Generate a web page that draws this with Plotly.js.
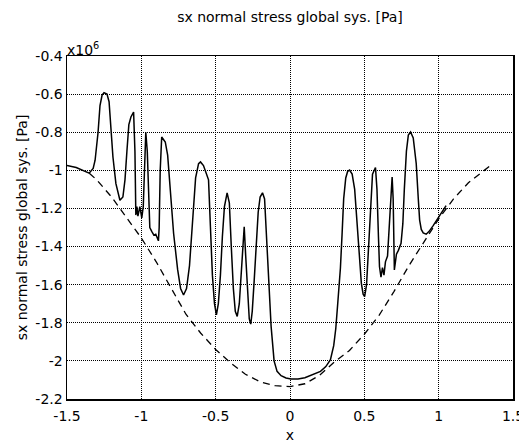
<!DOCTYPE html>
<html>
<head>
<meta charset="utf-8">
<script src="https://cdn.plot.ly/plotly-3.0.1.min.js"></script>
<style>html,body{margin:0;padding:0;background:#fff;}#chart{width:519px;height:443px;}</style>
</head>
<body>
<div id="chart"></div>
<script>
// Solid curve (values in units of 1e6 Pa)
const solidX = [-1.5,-1.438,-1.351,-1.324,-1.311,-1.291,-1.278,-1.264,-1.251,-1.231,-1.217,-1.204,-1.191,-1.171,-1.144,-1.124,-1.110,-1.097,-1.084,-1.070,-1.052,-1.043,-1.037,-1.030,-1.023,-1.010,-0.997,-0.987,-0.977,-0.970,-0.960,-0.943,-0.930,-0.916,-0.903,-0.885,-0.880,-0.873,-0.863,-0.850,-0.839,-0.823,-0.803,-0.783,-0.756,-0.736,-0.716,-0.696,-0.676,-0.656,-0.635,-0.615,-0.602,-0.582,-0.562,-0.548,-0.535,-0.522,-0.508,-0.495,-0.482,-0.468,-0.455,-0.441,-0.423,-0.408,-0.395,-0.381,-0.368,-0.355,-0.341,-0.328,-0.314,-0.308,-0.298,-0.288,-0.274,-0.264,-0.254,-0.241,-0.227,-0.214,-0.201,-0.185,-0.171,-0.161,-0.147,-0.127,-0.107,-0.087,-0.060,-0.027,0.007,0.054,0.100,0.154,0.205,0.241,0.272,0.294,0.308,0.321,0.339,0.350,0.361,0.375,0.388,0.401,0.418,0.435,0.448,0.465,0.480,0.492,0.502,0.515,0.528,0.542,0.555,0.575,0.585,0.595,0.602,0.612,0.622,0.632,0.642,0.656,0.669,0.687,0.694,0.702,0.716,0.729,0.747,0.759,0.769,0.783,0.796,0.811,0.829,0.849,0.863,0.872,0.883,0.896,0.916,0.936,0.963,1.003,1.050];
const solidY = [-0.975,-0.985,-1.015,-0.99,-0.947,-0.80,-0.66,-0.605,-0.593,-0.60,-0.64,-0.78,-0.93,-1.07,-1.157,-1.14,-1.05,-0.90,-0.76,-0.72,-0.694,-0.90,-1.235,-1.19,-1.24,-1.19,-1.25,-1.19,-0.95,-0.80,-0.90,-1.30,-1.32,-1.34,-1.335,-1.37,-1.30,-1.00,-0.825,-0.84,-0.851,-0.92,-1.12,-1.33,-1.52,-1.62,-1.654,-1.62,-1.50,-1.25,-1.04,-0.965,-0.956,-0.975,-1.02,-1.05,-1.30,-1.55,-1.70,-1.758,-1.70,-1.55,-1.35,-1.19,-1.118,-1.17,-1.40,-1.62,-1.74,-1.767,-1.70,-1.52,-1.36,-1.296,-1.45,-1.62,-1.78,-1.807,-1.74,-1.58,-1.40,-1.22,-1.14,-1.118,-1.15,-1.30,-1.55,-1.82,-2.00,-2.055,-2.078,-2.09,-2.095,-2.095,-2.088,-2.07,-2.055,-2.03,-1.994,-1.92,-1.83,-1.70,-1.514,-1.34,-1.15,-1.04,-1.005,-0.999,-1.02,-1.10,-1.25,-1.45,-1.593,-1.65,-1.663,-1.60,-1.40,-1.15,-1.02,-0.985,-1.10,-1.35,-1.506,-1.56,-1.51,-1.55,-1.48,-1.45,-1.30,-1.035,-1.15,-1.523,-1.44,-1.42,-1.383,-1.28,-1.10,-0.90,-0.815,-0.799,-0.83,-0.964,-1.15,-1.261,-1.31,-1.328,-1.335,-1.32,-1.29,-1.24,-1.185];

// Dashed curve
const dashX = [-1.35,-1.30,-1.20,-1.10,-1.00,-0.90,-0.80,-0.70,-0.60,-0.50,-0.40,-0.30,-0.20,-0.10,0.00,0.10,0.20,0.30,0.40,0.50,0.60,0.70,0.80,0.90,1.00,1.10,1.20,1.34];
const dashY = [-1.015,-1.05,-1.14,-1.25,-1.355,-1.48,-1.62,-1.755,-1.855,-1.94,-2.01,-2.07,-2.11,-2.13,-2.135,-2.12,-2.075,-2.005,-1.945,-1.86,-1.76,-1.635,-1.50,-1.375,-1.255,-1.15,-1.065,-0.98];

const xTicks = [-1.5,-1,-0.5,0,0.5,1,1.5];
const xTickText = ["-1.5","-1","-0.5","0","0.5","1","1.5"];
const yTicks = [-2.2,-2,-1.8,-1.6,-1.4,-1.2,-1,-0.8,-0.6,-0.4];
const yTickText = ["-2.2","-2","-1.8","-1.6","-1.4","-1.2","-1","-0.8","-0.6","-0.4"];

const font = {family: "DejaVu Sans, Verdana, sans-serif", size: 14, color: "#000"};

const traces = [
  {x: dashX, y: dashY, type: "scatter", mode: "lines", line: {color: "#000", width: 1.3, dash: "7px,5px"}, hoverinfo: "skip"},
  {x: solidX, y: solidY, type: "scatter", mode: "lines", line: {color: "#000", width: 1.5}, hoverinfo: "skip"}
];

const axisCommon = {
  showline: true, mirror: true, linecolor: "#000", linewidth: 1.5,
  showgrid: true, gridcolor: "#000", gridwidth: 1, griddash: "1px,1px",
  zeroline: false, ticks: "", tickfont: font, ticklabeloverflow: "allow"
};

const layout = {
  width: 519, height: 443,
  margin: {l: 67, r: 6, t: 56, b: 44},
  paper_bgcolor: "#fff", plot_bgcolor: "#fff",
  showlegend: false,
  font: font,
  title: {text: "sx normal stress global sys. [Pa]", font: font, x: 0.5587, xanchor: "center", y: 0.962, yanchor: "middle"},
  xaxis: Object.assign({}, axisCommon, {range: [-1.5, 1.5], tickvals: xTicks, ticktext: xTickText,
    ticklabelstandoff: 4, automargin: false,
    title: {text: "x", font: font, standoff: 7}}),
  yaxis: Object.assign({}, axisCommon, {range: [-2.2, -0.4], tickvals: yTicks, ticktext: yTickText,
    title: {text: "sx normal stress global sys. [Pa]", font: font, standoff: 4}}),
  annotations: [
    {text: "x10<sup>6</sup>", xref: "paper", yref: "paper", x: 0, y: 1, xanchor: "left", yanchor: "bottom",
     showarrow: false, font: font, xshift: -2, yshift: -4}
  ]
};

Plotly.newPlot("chart", traces, layout, {staticPlot: true, displayModeBar: false});
</script>
</body>
</html>
